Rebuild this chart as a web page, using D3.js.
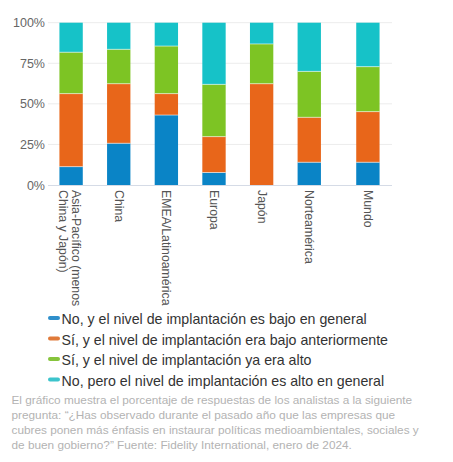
<!DOCTYPE html>
<html><head><meta charset="utf-8">
<script src="https://cdn.jsdelivr.net/npm/d3@7"></script>
<style>
html,body{margin:0;padding:0;background:#fff;}
svg{display:block;font-family:"Liberation Sans",Arial,sans-serif;}
</style></head>
<body>
<svg id="chart" width="453" height="462"></svg>
<script>
const categories = ["Asia-Pacífico (menos China y Japón)", "China", "EMEA/Latinoamérica", "Europa", "Japón", "Norteamérica", "Mundo"];
const categoryLines = [["Asia-Pacífico (menos", "China y Japón)"], ["China"], ["EMEA/Latinoamérica"], ["Europa"], ["Japón"], ["Norteamérica"], ["Mundo"]];
const seriesNames = [
  "No, y el nivel de implantación es bajo en general",
  "Sí, y el nivel de implantación era bajo anteriormente",
  "Sí, y el nivel de implantación ya era alto",
  "No, pero el nivel de implantación es alto en general"
];
const bajoGeneral   = [11.3, 25.7, 43.1, 7.7, 0, 14.0, 14.0];
const bajoAnterior  = [45.0, 36.7, 13.2, 22.1, 62.4, 27.7, 31.2];
const yaAlto        = [25.5, 21.2, 29.3, 32.2, 24.5, 28.3, 27.7];
const altoGeneral   = [18.2, 16.4, 14.4, 38.0, 13.1, 30.0, 27.1];
const yTicks = [0, 25, 50, 75, 100];
const captionLines = [
  "El gráfico muestra el porcentaje de respuestas de los analistas a la siguiente",
  "pregunta: “¿Has observado durante el pasado año que las empresas que",
  "cubres ponen más énfasis en instaurar políticas medioambientales, sociales y",
  "de buen gobierno?” Fuente: Fidelity International, enero de 2024."
];

const colors = ["#0a84c6", "#e8661a", "#7dc424", "#16c2c8"];
const legendColors = ["#2f8fcb", "#e07a3a", "#86c43c", "#3cc4cc"];

const svg = d3.select("#chart");
const plotL = 48, plotR = 392, plotT = 22.7, plotB = 185;
const lastGap = 11;

const x = d3.scaleBand().domain(categories).range([plotL, 380]).paddingInner(0.51).paddingOuter(0.24);
const xPos = c => x(c) + (c === "Mundo" ? lastGap : 0);
const y = d3.scaleLinear().domain([0, 100]).range([plotB, plotT]);

// grid
svg.append("g").selectAll("line").data(yTicks.filter(t => t > 0)).join("line")
  .attr("x1", plotL).attr("x2", plotR)
  .attr("y1", d => y(d)).attr("y2", d => y(d))
  .attr("stroke", "#ececec").attr("stroke-width", 1);

// y axis labels
const yAxis = d3.axisLeft(y).tickValues(yTicks).tickFormat(d => d + "%").tickSize(0).tickPadding(0);
const yg = svg.append("g").attr("transform", `translate(${plotL - 3},0)`).call(yAxis);
yg.select(".domain").remove();
yg.selectAll("text").attr("font-size", 12.5).attr("fill", "#666").attr("font-family", "Liberation Sans, Arial, sans-serif");

// stacked data
const table = categories.map((c, i) => ({cat: c, s0: bajoGeneral[i], s1: bajoAnterior[i], s2: yaAlto[i], s3: altoGeneral[i]}));
const stack = d3.stack().keys(["s0", "s1", "s2", "s3"])(table);

svg.append("g").selectAll("g").data(stack).join("g")
  .attr("fill", (d, i) => colors[i])
  .selectAll("rect").data(d => d).join("rect")
  .attr("x", d => xPos(d.data.cat))
  .attr("width", x.bandwidth())
  .attr("y", d => y(d[1]))
  .attr("height", d => Math.max(0, y(d[0]) - y(d[1])));

// segment separators
svg.append("g").selectAll("g").data(stack.slice(1)).join("g")
  .selectAll("line").data(d => d.filter(v => v[1] - v[0] > 0 && v[0] > 0)).join("line")
  .attr("x1", d => xPos(d.data.cat)).attr("x2", d => xPos(d.data.cat) + x.bandwidth())
  .attr("y1", d => y(d[0])).attr("y2", d => y(d[0]))
  .attr("stroke", "rgba(255,255,255,0.55)").attr("stroke-width", 1);

// baseline
svg.append("line").attr("x1", plotL).attr("x2", plotR).attr("y1", plotB + 0.5).attr("y2", plotB + 0.5)
  .attr("stroke", "#d5dbe6").attr("stroke-width", 1);

// x labels
const xl = svg.append("g");
categories.forEach((c, i) => {
  const cx = xPos(c) + x.bandwidth() / 2;
  const lines = categoryLines[i];
  lines.forEach((t, j) => {
    const off = lines.length === 1 ? 0 : (j === 0 ? 4.5 : -8.5);
    xl.append("text")
      .attr("transform", `translate(${cx + off},${plotB + 5}) rotate(90)`)
      .attr("dominant-baseline", "central")
      .attr("font-size", 12.3).attr("fill", "#555")
      .text(t);
  });
});

// legend
const lg = svg.append("g");
seriesNames.forEach((n, i) => {
  const by = 324 + i * 20.5;
  lg.append("rect").attr("x", 48).attr("y", by - 8).attr("width", 12).attr("height", 4).attr("rx", 2)
    .attr("fill", legendColors[i]);
  lg.append("text").attr("x", 61.5).attr("y", by).attr("font-size", 14.2).attr("fill", "#333").text(n);
});

// caption
const cg = svg.append("g");
captionLines.forEach((t, i) => {
  cg.append("text").attr("x", 11.5).attr("y", 404 + i * 15).attr("font-size", 11.8).attr("fill", "#b3b3b3").text(t);
});
</script>
</body></html>
